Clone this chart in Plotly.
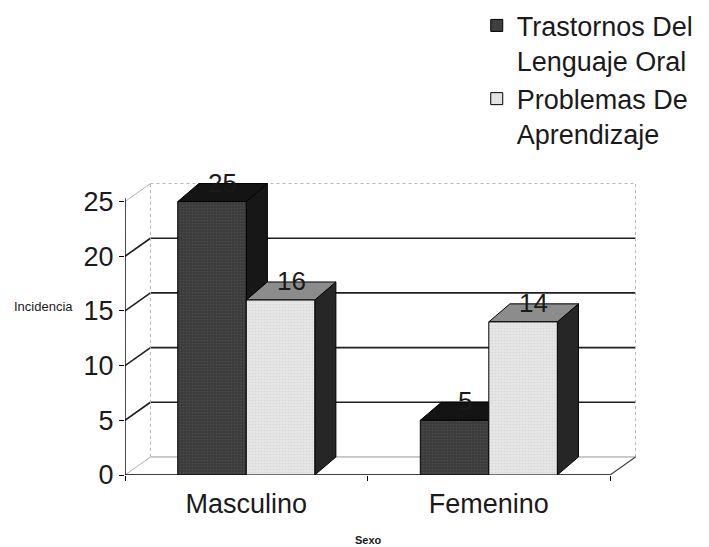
import plotly.graph_objects as go

# ---- data ----
categories = ["Masculino", "Femenino"]
trastornos = [25, 5]
problemas = [16, 14]
series_names = ["Trastornos Del<br>Lenguaje Oral", "Problemas De<br>Aprendizaje"]
y_ticks = [0, 5, 10, 15, 20, 25]

# ---- style constants ----
FONT = "Liberation Sans, Arial, sans-serif"
BARGAP = 0.435
BAR_W = (1 - BARGAP) / 2
BAR_DX, BAR_DY = 0.087, 1.65      # depth of the 3-D bars (axis units)
WALL_DX, WALL_DY = 0.105, 1.65    # depth of the walls (axis units)
LABEL_SHIFT = 19                  # px above the bar's front top edge
Y_MAX = y_ticks[-1]
X0, X1 = -0.5, len(categories) - 0.5

xs = list(range(len(categories)))
series = [trastornos, problemas]
front_colors = ["#3b3b3b", "#e6e6e6"]
pattern_fg = ["#5c5c5c", "#c9c9c9"]
side_colors = ["#171717", "#262626"]
top_colors = ["#141414", "#8c8c8c"]

fig = go.Figure()
for k, vals in enumerate(series):
    fig.add_bar(
        x=xs, y=vals, name=series_names[k],
        marker=dict(color=front_colors[k], line=dict(color="black", width=1),
                    pattern=dict(shape=".", fgcolor=pattern_fg[k], size=3, solidity=0.25)),
        hoverinfo="skip",
    )

shapes = []
def line(xa, ya, xb, yb, color, width=1.2, dash="solid"):
    shapes.append(dict(type="line", xref="x", yref="y", x0=xa, y0=ya, x1=xb, y1=yb,
                       line=dict(color=color, width=width, dash=dash), layer="below"))

def poly(pts, fill):
    path = "M " + " L ".join(f"{px},{py}" for px, py in pts) + " Z"
    shapes.append(dict(type="path", xref="x", yref="y", path=path, fillcolor=fill,
                       line=dict(color="black", width=1), layer="below"))

# walls
bx0, bx1 = X0 + WALL_DX, X1 + WALL_DX
for v in y_ticks:
    if v == 0:
        line(bx0, v + WALL_DY, bx1, v + WALL_DY, "#9a9a9a", 1)
        line(X0, v, bx0, v + WALL_DY, "#b0b0b0", 1)
    elif v == Y_MAX:
        line(bx0, v + WALL_DY, bx1, v + WALL_DY, "#b5b5b5", 1, "dot")
        line(X0, v, bx0, v + WALL_DY, "#b5b5b5", 1)
    else:
        line(bx0, v + WALL_DY, bx1, v + WALL_DY, "#1e1e1e", 1.6)
        line(X0, v, bx0, v + WALL_DY, "#1e1e1e", 1.6)
line(bx0, WALL_DY, bx0, Y_MAX + WALL_DY, "#b5b5b5", 1, "dot")
line(bx1, WALL_DY, bx1, Y_MAX + WALL_DY, "#b5b5b5", 1, "dot")
line(X1, 0, bx1, WALL_DY, "#444444", 1.2)
line(X0, 0, X1, 0, "black", 1.4)
line(X0, 0, X0, Y_MAX + 0.3, "black", 1.4)

# 3-D faces of the bars
for k, vals in enumerate(series):
    for i, v in zip(xs, vals):
        left = i - BAR_W + k * BAR_W
        right = left + BAR_W
        poly([(right, 0), (right + BAR_DX, BAR_DY), (right + BAR_DX, v + BAR_DY), (right, v)],
             side_colors[k])
        poly([(left, v), (right, v), (right + BAR_DX, v + BAR_DY), (left + BAR_DX, v + BAR_DY)],
             top_colors[k])

# value labels (annotations, drawn above the faces)
annotations = []
for k, vals in enumerate(series):
    for i, v in zip(xs, vals):
        left = i - BAR_W + k * BAR_W
        annotations.append(dict(
            x=left + BAR_W / 2 + BAR_DX / 2, y=v, xref="x", yref="y",
            yshift=LABEL_SHIFT,
            text=str(v), showarrow=False, xanchor="center", yanchor="middle",
            font=dict(family=FONT, size=26, color="#1a1a1a")))

annotations += [
    dict(text="Incidencia", xref="paper", yref="paper", x=-0.16, y=0.576,
         xanchor="center", yanchor="middle", showarrow=False,
         font=dict(size=13, family=FONT, color="#1a1a1a")),
    dict(text="<b>Sexo</b>", xref="paper", yref="paper", x=0.476, y=-0.222,
         xanchor="center", yanchor="middle", showarrow=False,
         font=dict(size=11, family=FONT, color="#1a1a1a")),
]

# page body has an 8px margin: shift margins to compensate
fig.update_layout(
    width=709, height=547,
    margin=dict(l=117, r=80, t=175, b=80, autoexpand=False),
    paper_bgcolor="white", plot_bgcolor="white",
    barmode="group", bargap=BARGAP, bargroupgap=0,
    font=dict(family=FONT, color="#1a1a1a"),
    shapes=shapes,
    annotations=annotations,
    showlegend=True,
    legend=dict(x=0.687, y=1.622, xanchor="left", yanchor="top", valign="top",
                font=dict(size=27, family=FONT, color="#1a1a1a"),
                bgcolor="rgba(0,0,0,0)", tracegroupgap=0),
)
fig.update_xaxes(range=[X0, X1 + WALL_DX + 0.006], tickvals=xs, ticktext=categories,
                 ticks="", showgrid=False, zeroline=False, showline=False,
                 ticklabelstandoff=10,
                 tickfont=dict(size=27, family=FONT, color="#1a1a1a"),
                 minor=dict(ticks="outside", tick0=X0, dtick=1, ticklen=5, tickcolor="black",
                            showgrid=False))
fig.update_yaxes(range=[0, Y_MAX + WALL_DY + 0.05], tickvals=y_ticks, ticks="outside",
                 ticklen=5, tickcolor="black", showgrid=False, zeroline=False, showline=False,
                 tickfont=dict(size=27, family=FONT, color="#1a1a1a"))

fig.write_html("out.html")
